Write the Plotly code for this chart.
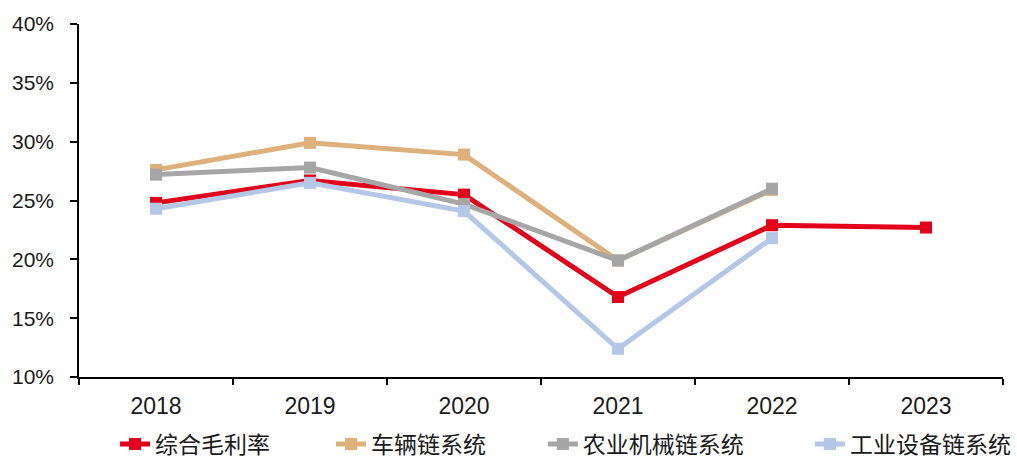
import plotly.graph_objects as go

years = ["2018", "2019", "2020", "2021", "2022", "2023"]

gross_margin = [24.8, 26.7, 25.5, 16.8, 22.9, 22.7]        # 综合毛利率
vehicle_chain = [27.6, 29.9, 28.9, 19.9, 25.9, None]       # 车辆链系统
agri_chain = [27.2, 27.8, 24.7, 19.9, 26.0, None]          # 农业机械链系统
industrial_chain = [24.3, 26.5, 24.1, 12.4, 21.8, None]    # 工业设备链系统

series = [
    ("综合毛利率", gross_margin, "#E2001A"),
    ("车辆链系统", vehicle_chain, "#DDB07C"),
    ("农业机械链系统", agri_chain, "#A6A6A6"),
    ("工业设备链系统", industrial_chain, "#B4C7E7"),
]

# each series gets its own legend box so the entries can be spaced freely
legend_ids = ["legend", "legend2", "legend3", "legend4"]
legend_x = [0.039, 0.2727, 0.502, 0.791]

fig = go.Figure()
for (name, vals, color), lid in zip(series, legend_ids):
    fig.add_trace(go.Scatter(
        x=years, y=vals, name=name, mode="lines+markers",
        line=dict(color=color, width=5),
        marker=dict(symbol="square", size=12, color=color),
        connectgaps=False, legend=lid,
    ))

legend_font = dict(family="Noto Sans CJK SC, sans-serif", size=23, color="#1a1a1a")
legends = {
    lid: dict(orientation="h", x=lx, xanchor="left", y=-0.19, yanchor="middle",
              font=legend_font, bgcolor="rgba(0,0,0,0)", borderwidth=0)
    for lid, lx in zip(legend_ids, legend_x)
}

fig.update_layout(
    width=1017, height=459,
    margin=dict(l=79, r=14, t=24, b=82, autoexpand=False),
    paper_bgcolor="white", plot_bgcolor="white",
    showlegend=True,
    xaxis=dict(
        type="category", range=[-0.5, 5.5],
        showline=True, linecolor="#000", linewidth=1.5,
        ticks="outside", tickson="boundaries", ticklen=6, tickcolor="#000", tickwidth=1.5,
        showgrid=False, zeroline=False, ticklabelstandoff=8,
        tickfont=dict(family="Liberation Sans, Arial, sans-serif", size=23, color="#1a1a1a"),
    ),
    yaxis=dict(
        range=[10, 40], dtick=5, ticksuffix="%",
        showline=True, linecolor="#000", linewidth=1.5,
        ticks="outside", ticklen=7, tickcolor="#000", tickwidth=1.5,
        showgrid=False, zeroline=False, ticklabelstandoff=12,
        tickfont=dict(family="Liberation Sans, Arial, sans-serif", size=21, color="#1a1a1a"),
    ),
    **legends,
)

fig.write_html("out.html")
